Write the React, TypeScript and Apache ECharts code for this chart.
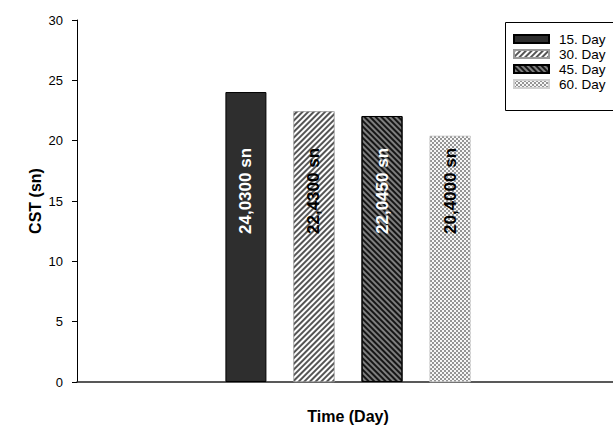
import React, { useEffect, useRef } from "react";
import * as echarts from "echarts";

const categories = [""];
const seriesNames = ["15. Day", "30. Day", "45. Day", "60. Day"];
const values = [24.03, 22.43, 22.045, 20.4];
const yTicks = { min: 0, max: 30, interval: 5 };
const yTitle = "CST (sn)";
const xTitle = "Time (Day)";

const FONT = "'Liberation Sans', Arial, sans-serif";

const styles = [
  { color: "#2e2e2e", borderColor: "#000", borderWidth: 1, labelColor: "#fff" },
  {
    color: "#ffffff",
    borderColor: "#9a9a9a",
    borderWidth: 0.5,
    labelColor: "#000",
    decal: { symbol: "rect", symbolSize: 1, color: "#555555", dashArrayX: [1, 0], dashArrayY: [1.5, 1.5], rotation: -Math.PI / 4 },
  },
  {
    color: "#7e7e7e",
    borderColor: "#000",
    borderWidth: 1,
    labelColor: "#fff",
    decal: { symbol: "rect", symbolSize: 1, color: "#151515", dashArrayX: [1, 0], dashArrayY: [1.5, 1.5], rotation: Math.PI / 4 },
  },
  {
    color: "#f7f7f7",
    borderColor: "#d0d0d0",
    borderWidth: 0.5,
    labelColor: "#000",
    decal: { symbol: "rect", symbolSize: 1, color: "#959595", dashArrayX: [[2, 2], [0, 2, 2, 0]], dashArrayY: [2, 0] },
  },
];

export default function App() {
  const ref = useRef<HTMLDivElement>(null);
  useEffect(() => {
    if (!ref.current) return;
    const chart = echarts.init(ref.current, undefined, { renderer: "svg" });
    chart.setOption({
      animation: false,
      backgroundColor: "#ffffff",
      textStyle: { fontFamily: FONT },
      grid: { left: 77, top: 20, bottom: 48, width: 542, containLabel: false, outerBoundsMode: "none" },
      graphic: [
        {
          type: "rect",
          left: 503,
          top: 20,
          shape: { x: 0, y: 0, width: 140, height: 88 },
          style: { fill: "none", stroke: "#000", lineWidth: 1 },
          silent: true,
        },
      ],
      legend: {
        data: seriesNames,
        orient: "vertical",
        left: 503,
        top: 20,
        padding: [12, 0, 20, 10],
        icon: "rect",
        itemWidth: 35,
        itemHeight: 8,
        itemGap: 1,
        formatter: (n: string) => "{t|" + n + "}",
        textStyle: {
          fontSize: 13,
          color: "#000",
          fontFamily: FONT,
          rich: { t: { fontSize: 13.5, color: "#000", fontFamily: FONT, padding: [0, 0, 0, 5] } },
        },
      },
      xAxis: {
        type: "category",
        data: categories,
        name: xTitle,
        nameLocation: "middle",
        nameGap: 26,
        nameMoveOverlap: false,
        nameTextStyle: { fontSize: 16, fontWeight: "bold", color: "#000", fontFamily: FONT },
        axisLine: { lineStyle: { color: "#222", width: 1.5 } },
        axisTick: { alignWithLabel: true, length: 5, lineStyle: { color: "#000" } },
        axisLabel: { show: false },
        splitLine: { show: false },
      },
      yAxis: {
        type: "value",
        min: yTicks.min,
        max: yTicks.max,
        interval: yTicks.interval,
        name: yTitle,
        nameLocation: "middle",
        nameGap: 34,
        nameMoveOverlap: false,
        nameTextStyle: { fontSize: 16, fontWeight: "bold", color: "#000", fontFamily: FONT },
        axisLine: { show: true, lineStyle: { color: "#000", width: 1 } },
        axisTick: { show: true, length: 5, lineStyle: { color: "#000" } },
        axisLabel: { fontSize: 13, color: "#000", margin: 14, fontFamily: FONT },
        splitLine: { show: false },
      },
      series: seriesNames.map((name, i) => ({
        name,
        type: "bar",
        data: [values[i]],
        barWidth: 41,
        barGap: "66%",
        itemStyle: {
          color: styles[i].color,
          borderColor: styles[i].borderColor,
          borderWidth: styles[i].borderWidth,
          decal: (styles[i] as any).decal || "none",
        },
        label: {
          show: true,
          position: "insideBottom",
          distance: 148,
          rotate: 90,
          align: "left",
          verticalAlign: "middle",
          fontSize: 17,
          fontWeight: "bold",
          fontFamily: FONT,
          color: styles[i].labelColor,
          formatter: (p: any) => Number(p.value).toFixed(4).replace(".", ",") + " sn",
        },
      })),
    });
    return () => chart.dispose();
  }, []);
  return <div ref={ref} style={{ position: "fixed", left: 0, top: 0, width: 613, height: 430 }} />;
}
